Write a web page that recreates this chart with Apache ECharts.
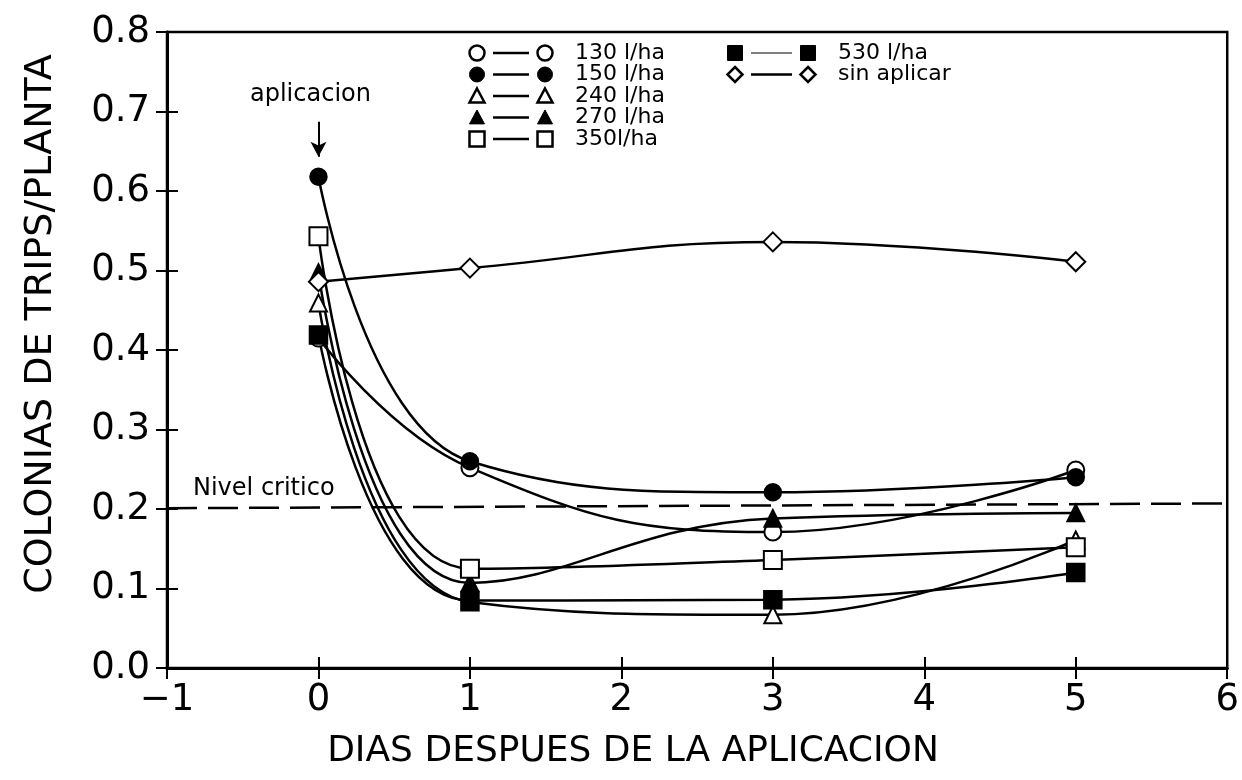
<!DOCTYPE html>
<html><head><meta charset="utf-8">
<script src="https://cdn.jsdelivr.net/npm/echarts@6/dist/echarts.min.js"></script>
<style>html,body{margin:0;padding:0;background:#fff}#c{width:1242px;height:780px}</style>
</head><body><div id="c"></div>
<script>
// ---- data ----
const days = [0, 1, 3, 5];
const v130 = [0.415, 0.252, 0.171, 0.249];
const v150 = [0.618, 0.260, 0.221, 0.240];
const v240 = [0.459, 0.083, 0.067, 0.161];
const v270 = [0.497, 0.107, 0.188, 0.195];
const v350 = [0.543, 0.125, 0.136, 0.152];
const v530 = [0.419, 0.085, 0.086, 0.120];
const vSin = [0.486, 0.503, 0.536, 0.511];
const seriesNames = ['130 l/ha', '150 l/ha', '240 l/ha', '270 l/ha', '350l/ha', '530 l/ha', 'sin aplicar'];
const seriesValues = [v130, v150, v240, v270, v350, v530, vSin];
const seriesSymbols = ['emptyCircle', 'circle', 'emptyTriangle', 'triangle', 'emptyRect', 'rect', 'emptyDiamond'];
const criticalLevel = [[-1, 0.201], [6, 0.207]];
const criticalLabel = 'Nivel critico';
const applicationDay = 0;
const applicationLabel = 'aplicacion';
const xTitle = 'DIAS DESPUES DE LA APLICACION';
const yTitle = 'COLONIAS DE TRIPS/PLANTA';

const FONT = 'DejaVu Sans';
const chart = echarts.init(document.getElementById('c'));

const symSize = {emptyCircle: 17, circle: 16, emptyTriangle: 17, triangle: 16, emptyRect: 18, rect: 17, emptyDiamond: 19};

const series = seriesNames.map((n, i) => ({
  name: n, type: 'line', xAxisIndex: 0, yAxisIndex: 0,
  data: days.map((d, j) => [d, seriesValues[i][j]]),
  smooth: 0.45,
  symbol: seriesSymbols[i], symbolSize: symSize[seriesSymbols[i]],
  lineStyle: {color: '#000', width: 2.5},
  itemStyle: {color: '#000', borderColor: '#000', borderWidth: 2.5},
  z: 3
}));

series.push({
  name: 'critico', type: 'line', xAxisIndex: 0, yAxisIndex: 0,
  data: criticalLevel, symbol: 'none',
  lineStyle: {color: '#000', width: 2.5, type: [30, 11]},
  markLine: {
    silent: true, symbolSize: [12, 15],
    lineStyle: {color: '#000', width: 2, type: 'solid'},
    label: {show: false},
    data: [[{coord: [applicationDay, 0.687], symbol: 'none'}, {coord: [applicationDay, 0.643], symbol: 'arrow'}]]
  },
  z: 2
});

// legend drawn as graphic (symbol — line — symbol  label)
function sym(kind, cx, cy, s) {
  const empty = kind.startsWith('empty');
  const style = empty ? {fill: '#fff', stroke: '#000', lineWidth: 2.5} : {fill: '#000', stroke: '#000', lineWidth: 1};
  const k = kind.replace('empty', '').toLowerCase();
  const h = s / 2;
  if (k === 'circle') return {type: 'circle', shape: {cx, cy, r: h}, style};
  if (k === 'rect') return {type: 'rect', shape: {x: cx - h, y: cy - h, width: s, height: s}, style};
  if (k === 'triangle') return {type: 'polygon', shape: {points: [[cx, cy - h], [cx + h, cy + h * 0.85], [cx - h, cy + h * 0.85]]}, style};
  return {type: 'polygon', shape: {points: [[cx, cy - h], [cx + h, cy], [cx, cy + h], [cx - h, cy]]}, style};
}
function txt(x, y, text, size, extra) {
  return Object.assign({type: 'text', x, y, style: {text, fontFamily: FONT, fontSize: size, fill: '#000', verticalAlign: 'middle'}}, extra || {});
}
const graphics = [];
seriesNames.forEach((n, i) => {
  const col = i < 5 ? 0 : 1;
  const row = i < 5 ? i : i - 5;
  const x0 = col === 0 ? 477 : 735;
  const gap = col === 0 ? 68 : 73;
  const cy = 53 + row * 21.5;
  const s = 15;
  graphics.push(sym(seriesSymbols[i], x0, cy, s));
  graphics.push({type: 'line', shape: {x1: x0 + 16, y1: cy, x2: x0 + gap - 16, y2: cy}, style: {stroke: '#000', lineWidth: i === 5 ? 1.2 : 2.5}});
  graphics.push(sym(seriesSymbols[i], x0 + gap, cy, s));
  graphics.push(txt(x0 + gap + 30, cy, n, 22));
});
graphics.push(txt(250, 95, applicationLabel, 24));
graphics.push(txt(193, 489, criticalLabel, 24));
const xt = txt(633, 752, xTitle, 36);
xt.style.align = 'center';
graphics.push(xt);
const yt = txt(41, 324, yTitle, 38, {rotation: Math.PI / 2});
yt.style.align = 'center';
graphics.push(yt);

const tickFont = {fontFamily: FONT, fontSize: 37, color: '#000'};
const option = {
  animation: false,
  backgroundColor: '#fff',
  grid: {left: 167, right: 12, top: 32, bottom: 112, show: true, borderColor: '#000', borderWidth: 2.5, backgroundColor: 'transparent'},
  xAxis: [
    {type: 'value', min: -1, max: 6, interval: 1, position: 'bottom',
     axisLine: {show: true, onZero: false, lineStyle: {color: '#000', width: 3}},
     axisTick: {show: true, inside: false, length: 11, lineStyle: {color: '#000', width: 2}},
     axisLabel: Object.assign({margin: 14, formatter: v => v < 0 ? '\u2212' + Math.abs(v) : String(v)}, tickFont),
     splitLine: {show: false}},
    {type: 'value', min: -1, max: 6, interval: 1, position: 'bottom',
     axisLine: {show: false, onZero: false},
     axisTick: {show: true, inside: true, length: 11, lineStyle: {color: '#000', width: 2}},
     axisLabel: {show: false}, splitLine: {show: false}}
  ],
  yAxis: [
    {type: 'value', min: 0, max: 0.8, interval: 0.1, position: 'left',
     axisLine: {show: true, onZero: false, lineStyle: {color: '#000', width: 3}},
     axisTick: {show: true, inside: false, length: 11, lineStyle: {color: '#000', width: 2}},
     axisLabel: Object.assign({margin: 17, formatter: v => v.toFixed(1)}, tickFont),
     splitLine: {show: false}},
    {type: 'value', min: 0, max: 0.8, interval: 0.1, position: 'left',
     axisLine: {show: false, onZero: false},
     axisTick: {show: true, inside: true, length: 11, lineStyle: {color: '#000', width: 2}},
     axisLabel: {show: false}, splitLine: {show: false}}
  ],
  graphic: graphics,
  series: series
};
chart.setOption(option);
</script></body></html>
